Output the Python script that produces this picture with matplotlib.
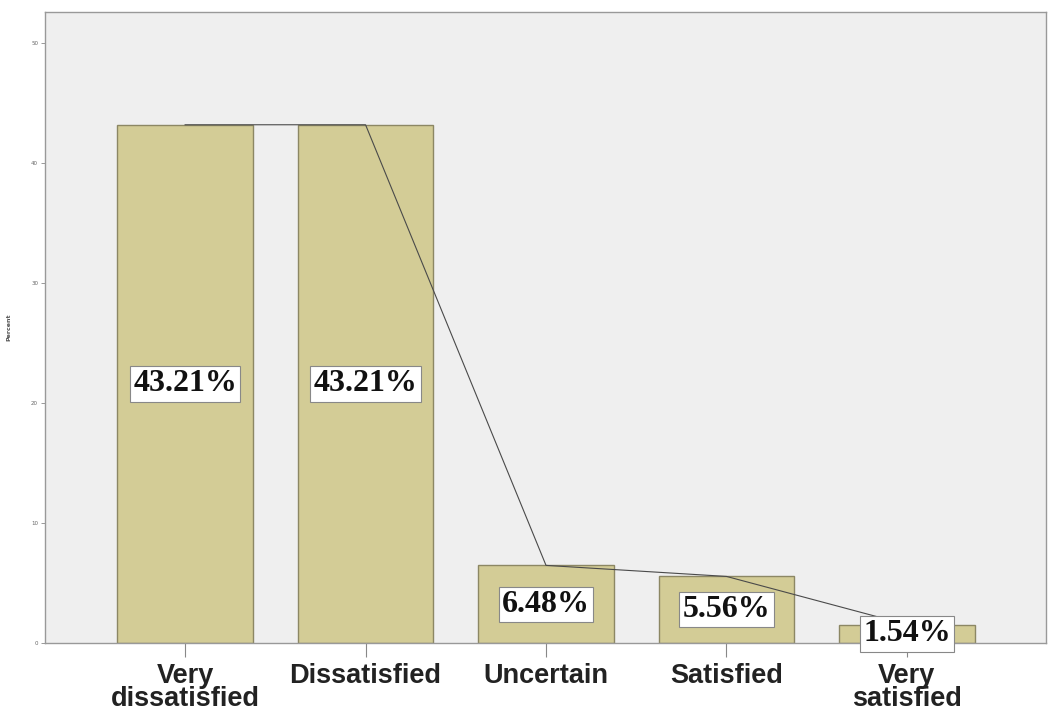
import numpy as np
import matplotlib.pyplot as plt

categories = ['Very\ndissatisfied', 'Dissatisfied', 'Uncertain', 'Satisfied', 'Very\nsatisfied']
percent = [43.21, 43.21, 6.48, 5.56, 1.54]
yticks = [0, 10, 20, 30, 40, 50]

x = np.arange(len(categories))

fig = plt.figure(figsize=(10.48, 7.13), dpi=100)
ax = fig.add_axes([0.043, 0.098, 0.955, 0.885])
ax.set_facecolor('#efefef')

ax.bar(x, percent, width=0.75, color='#d3cc96', edgecolor='#8c8764', linewidth=1.0, zorder=2)
ax.plot(x, percent, color='#4a4a4a', linewidth=0.8, zorder=3)

# value boxes sit at half the bar height
for xi, v in zip(x, percent):
    ax.text(xi, v / 2, f'{v:.2f}%', ha='center', va='center', fontsize=23,
            fontweight='bold', family='Liberation Serif', color='#111111', zorder=4,
            bbox=dict(boxstyle='square,pad=0.1', facecolor='white', edgecolor='#888888', linewidth=0.8),
            clip_on=False)

ax.set_xlim(-0.776, 4.77)
ax.set_ylim(0, 52.6)
ax.set_xticks(x)
ax.set_xticklabels(categories, fontsize=19.5, fontweight='bold', family='Liberation Sans',
                   color='#222222', linespacing=0.88)
ax.set_yticks(yticks)
ax.set_yticklabels([str(t) for t in yticks], fontsize=4, color='#666666')
ax.tick_params(axis='x', length=10, width=0.8, color='#888888', pad=4)
ax.tick_params(axis='y', length=3, width=0.6, color='#888888', pad=2)
ax.set_ylabel('Percent', fontsize=4.5, fontweight='bold', color='#555555', labelpad=14)

for s in ax.spines.values():
    s.set_color('#999999')
    s.set_linewidth(1.0)

fig.savefig('out.png', dpi=100, facecolor='white')
